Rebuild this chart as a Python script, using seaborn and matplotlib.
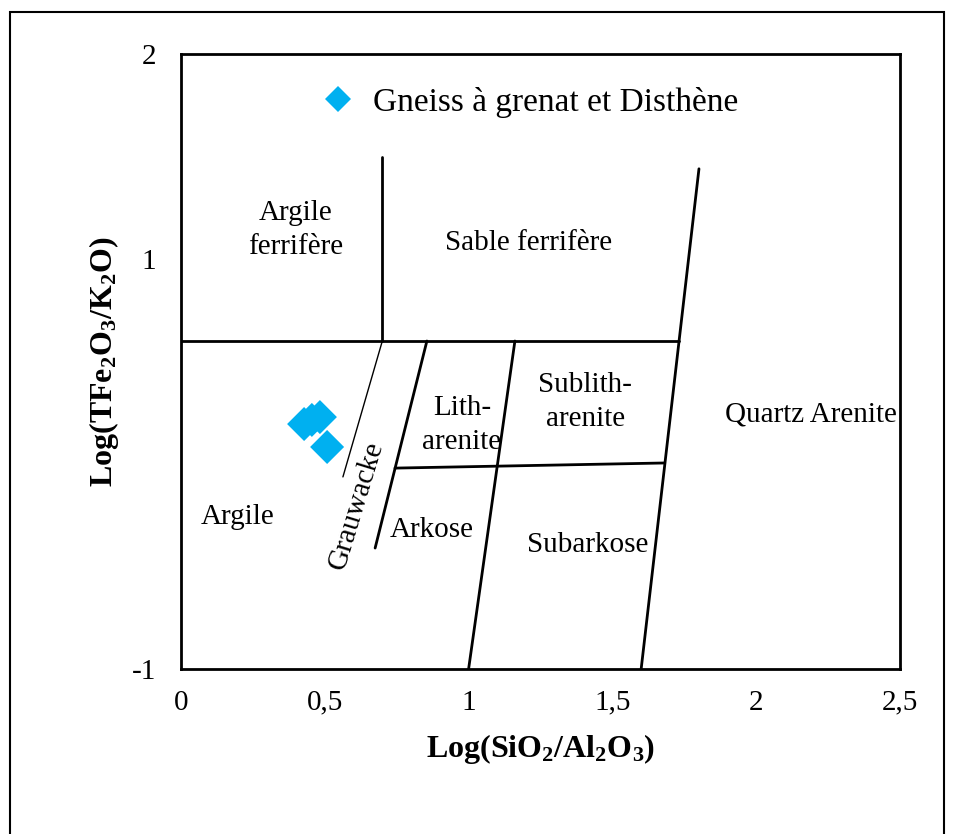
import numpy as np
import pandas as pd
import seaborn as sns
import matplotlib.pyplot as plt
from matplotlib.patches import Rectangle

# sample points (Log(SiO2/Al2O3), Log(TFe2O3/K2O))
x_pts = [0.428, 0.455, 0.483, 0.508]
y_pts = [0.195, 0.215, 0.229, 0.083]
series_name = "Gneiss à grenat et Disthène"

# classification boundaries (Herron 1988)
boundaries = {
    "top_h": ([0.0, 1.732], [0.6, 0.6]),
    "ferri_v": ([0.70, 0.70], [0.6, 1.5]),
    "quartz": ([1.6, 1.801], [-1.0, 1.44]),
    "subark": ([1.0, 1.161], [-1.0, 0.6]),
    "lith": ([0.675, 0.855], [-0.41, 0.6]),
    "mid_h": ([0.744, 1.682], [-0.02, 0.005]),
}
grau_line = ([0.563, 0.70], [-0.063, 0.6])

# region labels: text, x, y
labels = [
    ("Argile\nferrifère", 0.40, 1.14),
    ("Sable ferrifère", 1.21, 1.08),
    ("Lith-\narenite", 0.977, 0.19),
    ("Sublith-\narenite", 1.405, 0.30),
    ("Quartz Arenite", 2.19, 0.24),
    ("Argile", 0.198, -0.26),
    ("Arkose", 0.873, -0.32),
    ("Subarkose", 1.415, -0.395),
]

df = pd.DataFrame({"x": x_pts, "y": y_pts, "s": series_name})

sns.set_style("white")
plt.rcParams['font.family'] = ['Liberation Serif', 'DejaVu Serif']
plt.rcParams['mathtext.fontset'] = 'custom'
plt.rcParams['mathtext.rm'] = 'Liberation Serif'
plt.rcParams['mathtext.bf'] = 'Liberation Serif:bold'
plt.rcParams['mathtext.it'] = 'Liberation Serif:italic'
plt.rcParams['text.color'] = 'black'
plt.rcParams['axes.labelcolor'] = 'black'
plt.rcParams['xtick.color'] = 'black'
plt.rcParams['ytick.color'] = 'black'

fig = plt.figure(figsize=(9.58, 8.34), dpi=100)
ax = fig.add_axes([181 / 958, 1 - 669 / 834, 719 / 958, 615 / 834])

for name, (bx, by) in boundaries.items():
    ax.plot(bx, by, color='black', lw=2)
ax.plot(grau_line[0], grau_line[1], color='black', lw=1)

sns.scatterplot(data=df, x="x", y="y", hue="s", palette=['#00B0F0'], marker='D',
                s=300, edgecolor='none', ax=ax, zorder=5)

for txt, tx, ty in labels:
    ax.text(tx, ty, txt, ha='center', va='center', fontsize=21, linespacing=1.4)
ax.text(0.61, -0.2, "Grauwacke", ha='center', va='center', fontsize=21, rotation=73)

ax.set_xlim(0, 2.5)
ax.set_ylim(-1, 2)
ax.set_xticks([0, 0.5, 1, 1.5, 2, 2.5])
ax.set_xticklabels(["0", "0,5", "1", "1,5", "2", "2,5"])
ax.set_yticks([-1, 1, 2])
ax.set_yticklabels(["-1", "1", "2"])
ax.tick_params(axis='x', direction='inout', length=18, width=2, labelsize=21, pad=6)
ax.tick_params(axis='y', direction='out', length=10, width=2, labelsize=21, pad=8)
for sp in ax.spines.values():
    sp.set_linewidth(2)
    sp.set_color('black')

ax.set_xlabel(r"Log(SiO$_\mathbf{2}$/Al$_\mathbf{2}$O$_\mathbf{3}$)", fontsize=23,
              fontweight='bold', labelpad=12)
ax.set_ylabel(r"Log(TFe$_\mathbf{2}$O$_\mathbf{3}$/K$_\mathbf{2}$O)", fontsize=23,
              fontweight='bold', labelpad=8)

leg = ax.legend(loc='upper left', bbox_to_anchor=(0.13, 0.995), frameon=False,
                fontsize=24, handletextpad=0.05, markerscale=0.75)

fig.add_artist(Rectangle((10 / 958, -0.01), 934 / 958, 1 - 12 / 834 + 0.01,
                         transform=fig.transFigure, fill=False, edgecolor='black', lw=1.5))

fig.savefig("out.png", dpi=100)
